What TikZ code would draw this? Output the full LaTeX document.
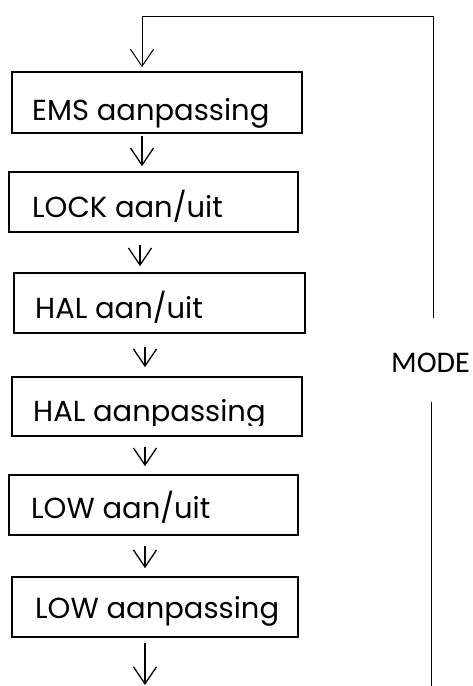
\documentclass[tikz,border=0pt]{standalone}
\usepackage{fontspec}
\setmainfont{Poppins}
\newfontfamily\modefont{Carlito}
\usetikzlibrary{arrows.meta,calc}
\begin{document}
\begin{tikzpicture}[x=1pt,y=-1pt,
  stage/.style={draw, line width=1.6pt, inner sep=0pt},
  lbl/.style={anchor=base west, inner sep=0pt, font=\fontsize{29}{33}\selectfont},
  barb/.tip={Straight Barb[length=17pt,width=23pt,line width=1.3pt]},
  flow/.style={line width=1.3pt, -barb},
  loopline/.style={line width=1pt}]
\useasboundingbox (0,0) rectangle (472,686);

% stage boxes
\node[stage, minimum width=290pt, minimum height=61pt] (b1) at (157,102.5) {};
\node[stage, minimum width=289pt, minimum height=60pt] (b2) at (153.5,202) {};
\node[stage, minimum width=291pt, minimum height=60pt] (b3) at (159.5,303) {};
\node[stage, minimum width=290pt, minimum height=59pt] (b4) at (157,406.5) {};
\node[stage, minimum width=289pt, minimum height=60pt] (b5) at (153.5,505) {};
\node[stage, minimum width=286pt, minimum height=60pt] (b6) at (155,607) {};

% stage labels
\node[lbl] (t1) at (32,120) {EMS aanpassing};
\node[lbl] (t2) at (32,217) {LOCK aan/uit};
\node[lbl] (t3) at (35,318) {HAL aan/uit};
\begin{scope}
  \clip (0,380) rectangle (472,425);
  \node[lbl] (t4) at (33,421) {HAL aanpassing};
\end{scope}
\node[lbl] (t5) at (31,518) {LOW aan/uit};
\begin{scope}
  \clip (0,580) rectangle (472,627);
  \node[lbl] (t6) at (35,618) {LOW aanpassing};
\end{scope}

% arrows between the stages
\draw[flow] ($(b1.south)+(-15,2)$) -- ($(b2.north)+(-11.5,-5)$);
\draw[flow] ($(b2.south)+(-13.5,12)$) -- ($(b3.north)+(-19.5,-6)$);
\draw[flow] ($(b3.south)+(-14.5,13)$) -- ($(b4.north)+(-12,-9)$);
\draw[flow] ($(b4.south)+(-12,10)$) -- ($(b5.north)+(-8.5,-8)$);
\draw[flow] ($(b5.south)+(-8.5,10)$) -- ($(b6.north)+(-10,-8)$);
\coordinate (exit) at (145,685);
\draw[flow] ($(b6.south)+(-10,5)$) -- (exit);

% MODE return loop
\node[inner sep=0pt, font=\modefont\fontsize{30}{33}\selectfont] (mode) at (430.5,363) {MODE};
\coordinate (loopR) at (433,16);
\coordinate (loopL) at (142,16);
\coordinate (loopB) at (431,686);
\draw[loopline, -{Straight Barb[length=17pt,width=23pt,line width=1pt]}]
  ($(mode.north -| loopR)+(0,-35)$) -- (loopR) -- (loopL) -- ($(b1.north)+(-15,-4)$);
\draw[loopline] ($(mode.south -| loopB)+(0,29)$) -- (loopB);
\end{tikzpicture}
\end{document}
